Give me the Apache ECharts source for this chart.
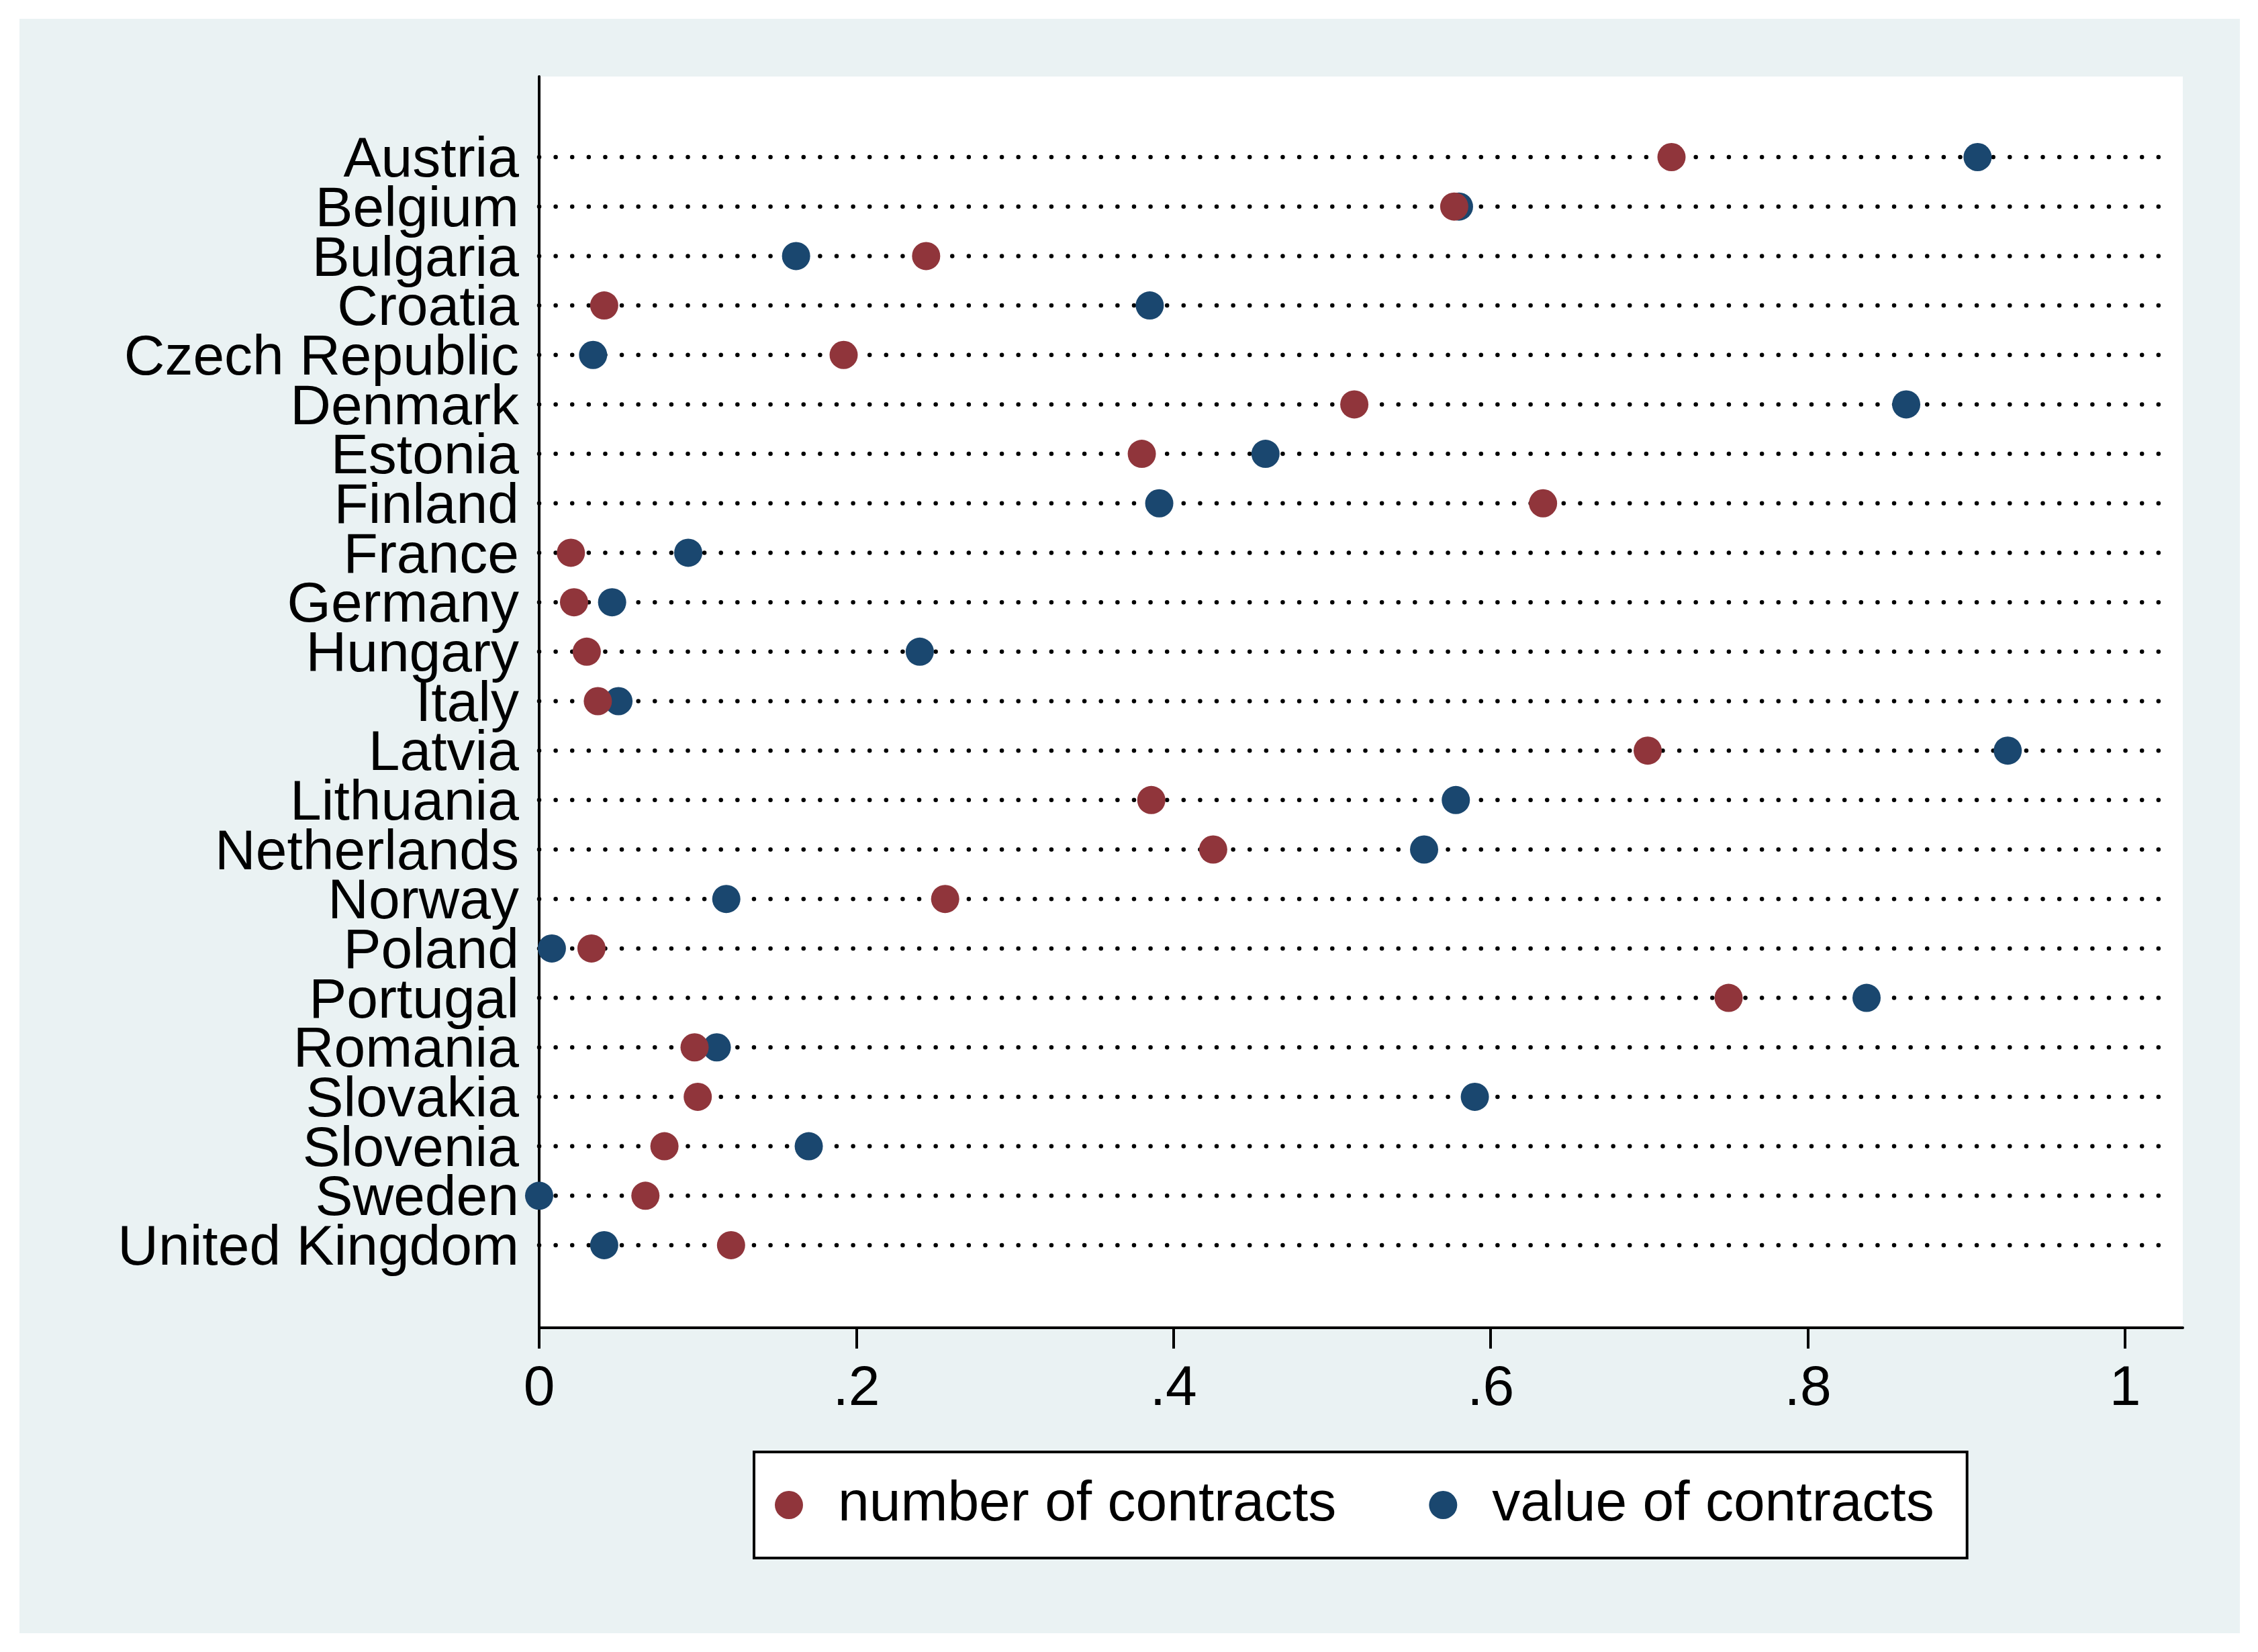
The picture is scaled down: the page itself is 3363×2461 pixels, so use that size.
<!DOCTYPE html>
<html>
<head>
<meta charset="utf-8">
<script src="https://cdn.jsdelivr.net/npm/echarts@6/dist/echarts.min.js"></script>
<style>
  html, body { margin: 0; padding: 0; background: #ffffff; }
  #chart { width: 3363px; height: 2461px; }
</style>
</head>
<body>
<div id="chart"></div>
<script>
const categories = ['Austria', 'Belgium', 'Bulgaria', 'Croatia', 'Czech Republic', 'Denmark', 'Estonia', 'Finland', 'France', 'Germany', 'Hungary', 'Italy', 'Latvia', 'Lithuania', 'Netherlands', 'Norway', 'Poland', 'Portugal', 'Romania', 'Slovakia', 'Slovenia', 'Sweden', 'United Kingdom'];
const numberOfContracts = [0.714, 0.577, 0.244, 0.041, 0.192, 0.514, 0.380, 0.633, 0.020, 0.022, 0.030, 0.037, 0.699, 0.386, 0.425, 0.256, 0.033, 0.750, 0.098, 0.100, 0.079, 0.067, 0.121];
const valueOfContracts = [0.907, 0.580, 0.162, 0.385, 0.034, 0.862, 0.458, 0.391, 0.094, 0.046, 0.240, 0.050, 0.926, 0.578, 0.558, 0.118, 0.008, 0.837, 0.112, 0.590, 0.170, 0.000, 0.041];
const xTicks = [0, 0.2, 0.4, 0.6, 0.8, 1];
const xTickLabels = ['0', '.2', '.4', '.6', '.8', '1'];
const seriesNames = ['number of contracts', 'value of contracts'];

const FONT = "'Liberation Sans', Arial, sans-serif";
const RED = '#90353B';
const BLUE = '#1A476F';

const chart = echarts.init(document.getElementById('chart'), null, { renderer: 'canvas' });

const option = {
  backgroundColor: '#ffffff',
  animation: false,
  textStyle: { fontFamily: FONT },
  graphic: [{
    type: 'rect', z: -10, silent: true,
    shape: { x: 29, y: 28, width: 3307, height: 2405 },
    style: { fill: '#EAF2F3' }
  }],
  grid: {
    left: 803, top: 114, width: 2448, height: 1864,
    show: true, backgroundColor: '#ffffff', borderWidth: 0,
    containLabel: false, outerBoundsMode: 'none'
  },
  xAxis: {
    type: 'value', min: 0, max: 1.0364,
    axisLine: { show: true, onZero: false, lineStyle: { color: '#000', width: 4 } },
    axisTick: { show: true, length: 31, customValues: xTicks, lineStyle: { color: '#000', width: 4 } },
    axisLabel: {
      show: true, customValues: xTicks, margin: 50,
      showMinLabel: true, showMaxLabel: true,
      fontSize: 84, color: '#000', fontFamily: FONT,
      formatter: v => { const i = xTicks.findIndex(t => Math.abs(t - v) < 1e-6); return i >= 0 ? xTickLabels[i] : ''; }
    },
    splitLine: { show: false }
  },
  yAxis: {
    type: 'value', inverse: true, min: -1.629, max: 23.67,
    axisLine: { show: true, onZero: false, lineStyle: { color: '#000', width: 4 } },
    axisTick: { show: false },
    axisLabel: { show: false },
    splitLine: { show: false }
  },
  legend: {
    data: seriesNames,
    left: 1123, top: 2163,
    orient: 'horizontal',
    backgroundColor: '#ffffff', borderColor: '#000', borderWidth: 4,
    padding: [37, 49, 37, 31],
    itemWidth: 42, itemHeight: 42, itemGap: 138,
    icon: 'circle',
    textStyle: { fontSize: 84, color: '#000', fontFamily: FONT, padding: [0, 0, 0, 47] }
  },
  series: [
    {
      type: 'custom', name: 'guides', silent: true, z: 1,
      data: categories.map((c, i) => [0, i]),
      encode: { x: 0, y: 1 },
      clip: false,
      renderItem: (params, api) => {
        const idx = api.value(1);
        const y = api.coord([0, idx])[1];
        const cs = params.coordSys;
        return {
          type: 'group',
          children: [
            {
              type: 'line',
              shape: { x1: cs.x, y1: y, x2: cs.x + cs.width - 25, y2: y },
              style: { stroke: '#000', lineWidth: 6.5, lineDash: [0.01, 24.6], lineCap: 'round' }
            },
            {
              type: 'text',
              x: cs.x - 30, y: y + 6,
              style: {
                text: categories[idx], fill: '#000',
                font: "84px 'Liberation Sans', Arial, sans-serif",
                align: 'right', verticalAlign: 'middle'
              }
            }
          ]
        };
      }
    },
    {
      type: 'scatter', name: seriesNames[1], z: 3,
      symbol: 'circle', symbolSize: 42,
      itemStyle: { color: BLUE, opacity: 1 },
      data: valueOfContracts.map((v, i) => [v, i])
    },
    {
      type: 'scatter', name: seriesNames[0], z: 4,
      symbol: 'circle', symbolSize: 42,
      itemStyle: { color: RED, opacity: 1 },
      data: numberOfContracts.map((v, i) => [v, i])
    }
  ]
};

chart.setOption(option);
</script>
</body>
</html>
